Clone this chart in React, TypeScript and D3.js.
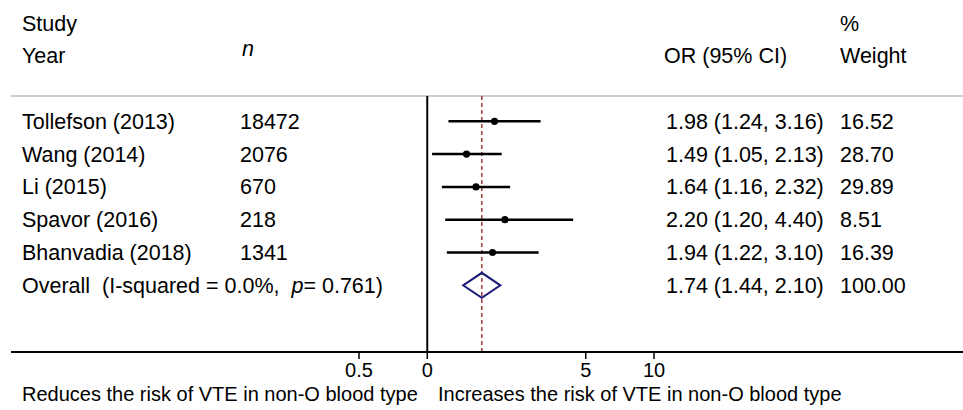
import * as d3 from 'd3';
import React from 'react';

const studies = ['Tollefson (2013)', 'Wang (2014)', 'Li (2015)', 'Spavor (2016)', 'Bhanvadia (2018)'];
const sampleSizes = ['18472', '2076', '670', '218', '1341'];
const oddsRatios = [1.98, 1.49, 1.64, 2.2, 1.94];
const lowerCI = [1.24, 1.05, 1.16, 1.2, 1.22];
const upperCI = [3.16, 2.13, 2.32, 4.4, 3.1];
const weights = ['16.52', '28.70', '29.89', '8.51', '16.39'];

const overallOR = 1.74;
const overallLower = 1.44;
const overallUpper = 2.1;
const overallWeight = '100.00';

const tickValues = [0.5, 1, 5, 10];
const tickLabels = ['0.5', '0', '5', '10'];

const width = 963;
const height = 410;
const font = "'Liberation Sans', Arial, sans-serif";

const fmt = d3.format('.2f');

const App = () => {
    const rows = [...studies, 'Overall'];
    const x = d3.scaleLog().domain([0.5, 10]).range([359, 654]);
    const y = d3.scalePoint().domain(rows).range([121.3, 285.3]);

    const headerY = 96;
    const axisY = 352;
    const colN = 240;
    const colOR = 666;
    const colW = 840;

    const ov = y('Overall');
    const diamond = d3.line()([
        [x(overallLower), ov],
        [x(overallOR), ov - 12.5],
        [x(overallUpper), ov],
        [x(overallOR), ov + 12.5],
    ]) + 'Z';

    return (
        <svg width={width} height={height} style={{ position: 'absolute', left: 0, top: 0, background: '#fff' }}
            fontFamily={font} fontSize={21.5} fill="#000">
            {/* header */}
            <text x={22} y={31}>Study</text>
            <text x={22} y={63}>Year</text>
            <text x={colN + 2} y={56} fontStyle="italic">n</text>
            <text x={colOR - 2} y={63}>OR (95% CI)</text>
            <text x={colW} y={31}>%</text>
            <text x={colW} y={63}>Weight</text>
            <line x1={11} x2={963} y1={headerY} y2={headerY} stroke="#bcbcbc" strokeWidth={1.5} />

            {/* reference lines */}
            <line x1={x(1)} x2={x(1)} y1={headerY} y2={axisY} stroke="#000" strokeWidth={2} />
            <line x1={x(overallOR)} x2={x(overallOR)} y1={headerY} y2={axisY}
                stroke="#a33a3a" strokeWidth={1.5} strokeDasharray="4,3" />

            {/* studies */}
            {studies.map((s, i) => (
                <g key={s}>
                    <text x={22} y={y(s)} dy="0.35em">{s}</text>
                    <text x={colN} y={y(s)} dy="0.35em">{sampleSizes[i]}</text>
                    <text x={colOR} y={y(s)} dy="0.35em">
                        {`${fmt(oddsRatios[i])} (${fmt(lowerCI[i])}, ${fmt(upperCI[i])})`}
                    </text>
                    <text x={colW} y={y(s)} dy="0.35em">{weights[i]}</text>
                    <line x1={x(lowerCI[i])} x2={x(upperCI[i])} y1={y(s)} y2={y(s)} stroke="#000" strokeWidth={2.5} />
                    <circle cx={x(oddsRatios[i])} cy={y(s)} r={3.6} fill="#000" />
                </g>
            ))}

            {/* overall */}
            <text x={22} y={ov} dy="0.35em" style={{ whiteSpace: 'pre' }}>
                {'Overall  (I-squared = 0.0%,  '}
                <tspan fontStyle="italic">p</tspan>
                {'= 0.761)'}
            </text>
            <text x={colOR} y={ov} dy="0.35em">
                {`${fmt(overallOR)} (${fmt(overallLower)}, ${fmt(overallUpper)})`}
            </text>
            <text x={colW} y={ov} dy="0.35em">{overallWeight}</text>
            <path d={diamond} fill="none" stroke="#1c1c78" strokeWidth={2} />

            {/* axis */}
            <line x1={11} x2={963} y1={axisY} y2={axisY} stroke="#000" strokeWidth={2} />
            {tickValues.map((t, i) => (
                <g key={t}>
                    <line x1={x(t)} x2={x(t)} y1={axisY} y2={axisY + 7} stroke="#000" strokeWidth={1.5} />
                    <text x={x(t)} y={axisY + 25} textAnchor="middle" fontSize={20}>{tickLabels[i]}</text>
                </g>
            ))}
            <text x={22} y={401} fontSize={20}>Reduces the risk of VTE in non-O blood type</text>
            <text x={438} y={401} fontSize={20}>Increases the risk of VTE in non-O blood type</text>
        </svg>
    );
};

export default App;
